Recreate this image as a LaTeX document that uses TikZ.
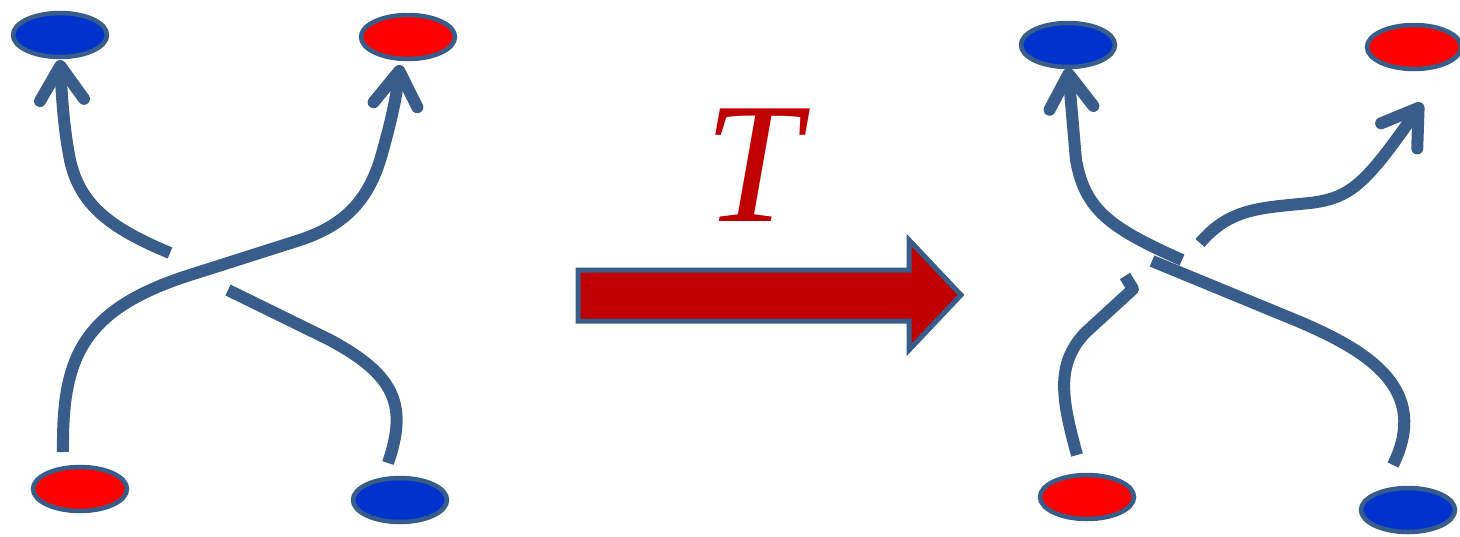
\documentclass[tikz,border=0pt]{standalone}
\usepackage{fontspec}
\setmainfont{Liberation Serif}
\usetikzlibrary{shapes.geometric,arrows.meta}
\definecolor{edgeblue}{RGB}{56,93,138}
\definecolor{dotblue}{RGB}{0,51,204}
\definecolor{dotred}{RGB}{255,0,0}
\definecolor{darkred}{RGB}{192,0,0}
\tikzset{
  dot/.style={ellipse, draw=edgeblue, line width=4.5pt, minimum width=94pt, minimum height=44pt, inner sep=0pt},
  bdot/.style={dot, fill=dotblue},
  rdot/.style={dot, fill=dotred},
  strand/.style={draw=edgeblue, line width=12pt, line cap=butt, line join=round},
  tip/.style={-{Straight Barb[length=34pt,width=44pt,round]}},
}
\begin{document}
\begin{tikzpicture}[x=1pt,y=-1pt]
\useasboundingbox (0,0) rectangle (1460,536);
% ---- left braid ----
\node[bdot] (LTB) at (60,35) {};
\node[rdot] (LTR) at (408,37) {};
\node[rdot] (LBR) at (80,489) {};
\node[bdot] (LBB) at (400,500) {};
\coordinate (a0) at (63,452);
\coordinate (a1) at (400,65);
\coordinate (b0) at (388,463);
\coordinate (b1) at (228,290);
\coordinate (b2) at (170,253);
\coordinate (b3) at (60,60);
\draw[strand,tip] (a0) .. controls (62,360) and (80,310) .. (190,275) -- (300,240) .. controls (345,225) and (370,200) .. (383,150) .. controls (390,125) and (396,100) .. (a1);
\draw[strand] (b0) .. controls (408,405) and (395,375) .. (330,340) -- (b1);
\draw[strand,tip] (b2) .. controls (110,228) and (80,205) .. (70,160) .. controls (64,130) and (62,100) .. (b3);
% ---- big arrow ----
\node[font=\fontsize{172}{172}\selectfont\itshape, text=darkred] (T) at (752,165) {T};
\draw[draw=edgeblue, fill=darkred, line width=5pt, line join=miter]
  (578,270) -- (909,270) -- (909,240) -- (961,295) -- (909,350) -- (909,321) -- (578,321) -- cycle;
\coordinate (arrowtip) at (961,295);
% ---- right braid ----
\node[bdot] (RTB) at (1068,45) {};
\node[rdot] (RTR) at (1414,47) {};
\node[rdot] (RBR) at (1087,497) {};
\node[bdot] (RBB) at (1408,510) {};
\coordinate (c0) at (1182,260);
\coordinate (c1) at (1068,68);
\coordinate (c2) at (1152,261);
\coordinate (c3) at (1393,465);
\coordinate (d0) at (1077,455);
\coordinate (d1) at (1125,276);
\coordinate (d2) at (1200,243);
\coordinate (d3) at (1422,103);
\draw[strand,tip] (c0) .. controls (1110,228) and (1085,210) .. (1076,160) -- (c1);
\draw[strand] (c2) -- (1300,322) .. controls (1370,352) and (1430,390) .. (c3);
\draw[strand] (d0) .. controls (1062,400) and (1055,365) .. (1085,333) -- (1133,289) -- (d1);
\draw[strand,tip] (d2) .. controls (1230,208) and (1260,208) .. (1310,203) .. controls (1350,198) and (1365,185) .. (d3);
\end{tikzpicture}
\end{document}
